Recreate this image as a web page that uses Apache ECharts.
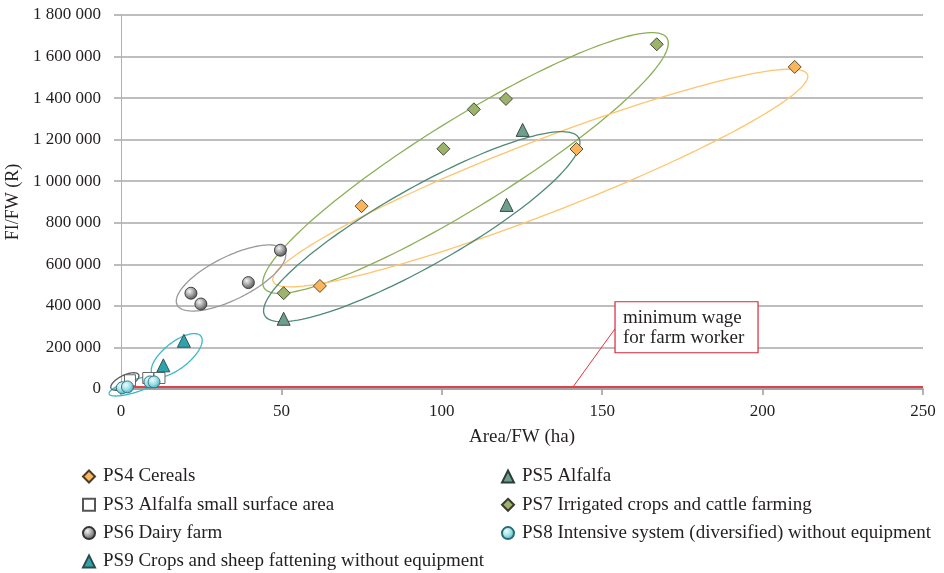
<!DOCTYPE html>
<html>
<head>
<meta charset="utf-8">
<script src="https://cdn.jsdelivr.net/npm/echarts@6.0.0/dist/echarts.min.js"></script>
<style>
html,body{margin:0;padding:0;background:#fff;}
#chart{width:944px;height:573px;}
</style>
</head>
<body>
<div id="chart"></div>
<script>
// ---- data ----
const xTickValues = [0, 50, 100, 150, 200, 250];
const yTickMax = 1800000;
const seriesNames = [
  'PS4 Cereals',
  'PS3 Alfalfa small surface area',
  'PS6 Dairy farm',
  'PS9 Crops and sheep fattening without equipment',
  'PS5 Alfalfa',
  'PS7 Irrigated crops and cattle farming',
  'PS8 Intensive system (diversified) without equipment'
];
const ps4Cereals = [[62, 496000], [75, 880000], [142, 1155000], [210, 1550000]];
const ps3AlfalfaSmall = [[2.8, 42000], [8.5, 53000], [12, 53000]];
const ps6Dairy = [[21.8, 461000], [24.9, 409000], [39.7, 512000], [49.7, 668000]];
const ps9CropsSheep = [[13.2, 114000], [19.6, 232000]];
const ps5Alfalfa = [[50.7, 338000], [120.2, 886000], [125.2, 1247000]];
const ps7Irrigated = [[50.7, 461000], [100.5, 1156000], [110, 1346000], [120, 1396000], [167, 1659000]];
const ps8Intensive = [[0.4, 6000], [2, 10000], [9, 34000], [10.3, 34000]];
const minimumWage = 12000;
const calloutText = 'minimum wage\nfor farm worker';
// group outlines: [tipA x, tipA y, tipB x, tipB y, side point x, side point y] in data units
const outlinePS7 = [44.6, 486600, 170.2, 1688900, 114.6, 907700];
const outlinePS4 = [47.4, 517900, 214.0, 1513200, 134.8, 852400];
const outlinePS5 = [44.8, 353700, 142.7, 1208500, 99.7, 618000];
const outlinePS6 = [17.5, 404800, 51.1, 663700, 37.3, 441800];
const outlinePS9 = [9.85, 69800, 24.9, 254600, 19.9, 113100];
const outlinePS8 = [-3.7, -23600, 11.8, 50500, 4.6, -15900];
const outlinePS3 = [-3.1, 3400, 5.5, 68800, 2.0, 9100];
// callout: [point on wage line x, y, box top-left x, y]
const calloutAnchor = [141, minimumWage, 154, 420000];

// ---- styling ----
const SERIF = '"Liberation Serif", "Times New Roman", serif';
const TXT = '#231f20';
const GRIDC = '#a8a8a8';

function fmt(v) { return String(v).replace(/\B(?=(\d{3})+(?!\d))/g, ' '); }

function renderOutline(color) {
  return function (params, api) {
    const p1 = api.coord([api.value(0), api.value(1)]);
    const p2 = api.coord([api.value(2), api.value(3)]);
    const pe = api.coord([api.value(4), api.value(5)]);
    const cx = (p1[0] + p2[0]) / 2, cy = (p1[1] + p2[1]) / 2;
    const dx = p2[0] - p1[0], dy = p2[1] - p1[1];
    const len = Math.hypot(dx, dy);
    const a = len / 2;
    const ux = dx / len, uy = dy / len;
    const b = Math.abs((pe[0] - cx) * (-uy) + (pe[1] - cy) * ux);
    const pts = [];
    const N = 160;
    for (let i = 0; i < N; i++) {
      const t = i / N * Math.PI * 2;
      const ca = Math.cos(t) * a, sb = Math.sin(t) * b;
      pts.push([cx + ca * ux - sb * uy, cy + ca * uy + sb * ux]);
    }
    return {
      type: 'polygon',
      shape: { points: pts },
      style: { fill: 'none', stroke: color, lineWidth: 1.3 }
    };
  };
}

function outlineSeries(data, color) {
  return {
    type: 'custom',
    coordinateSystem: 'cartesian2d',
    renderItem: renderOutline(color),
    data: [data],
    encode: { x: [0, 2, 4], y: [1, 3, 5] },
    clip: false,
    silent: true,
    z: 3,
    tooltip: { show: false }
  };
}

function renderCallout(params, api) {
  const p = api.coord([api.value(0), api.value(1)]);
  const q = api.coord([api.value(2), api.value(3)]);
  const w = 143, h = 51;
  return {
    type: 'group',
    children: [
      { type: 'line', shape: { x1: p[0], y1: p[1], x2: q[0], y2: q[1] + 27 },
        style: { stroke: '#e2343f', lineWidth: 1 } },
      { type: 'rect', shape: { x: q[0], y: q[1], width: w, height: h },
        style: { fill: '#fff', stroke: '#d8283a', lineWidth: 1.2 } },
      { type: 'text', x: q[0] + 8, y: q[1] + 6,
        style: { text: calloutText, font: '19px ' + SERIF, fill: TXT, lineHeight: 20,
                 verticalAlign: 'top', align: 'left' } }
    ]
  };
}

function scatter(name, data, symbol, size, color, border) {
  return {
    name: name, type: 'scatter', data: data, symbol: symbol, symbolSize: size,
    itemStyle: { color: color, borderColor: border, borderWidth: 0.9, opacity: 1 },
    z: 5
  };
}

const grayBall = { type: 'radial', x: 0.38, y: 0.35, r: 0.7,
  colorStops: [{ offset: 0, color: '#f4f4f4' }, { offset: 0.5, color: '#a0a0a0' }, { offset: 1, color: '#4a4a4a' }] };
const cyanBall = { type: 'radial', x: 0.38, y: 0.35, r: 0.7,
  colorStops: [{ offset: 0, color: '#eefcfe' }, { offset: 0.5, color: '#9fe0e8' }, { offset: 1, color: '#3aa9b8' }] };

const legendText = { fontFamily: SERIF, fontSize: 19, color: TXT, padding: [0, 0, 0, 3] };

const option = {
  animation: false,
  backgroundColor: '#fff',
  grid: { left: 121, right: 21, top: 15, bottom: 184, outerBoundsMode: 'none' },
  legend: [
    { data: seriesNames.slice(0, 4), orient: 'vertical', left: 82, top: 467, height: 106, padding: 0,
      itemWidth: 12, itemHeight: 12, itemGap: 9.3, textStyle: legendText, selectedMode: false },
    { data: seriesNames.slice(4), orient: 'vertical', left: 501, top: 467, height: 106, padding: 0,
      itemWidth: 12, itemHeight: 12, itemGap: 9.3, textStyle: legendText, selectedMode: false }
  ],
  xAxis: {
    type: 'value', min: xTickValues[0], max: xTickValues[xTickValues.length - 1],
    interval: xTickValues[1] - xTickValues[0],
    name: 'Area/FW (ha)', nameLocation: 'middle', nameGap: 39,
    nameTextStyle: { fontFamily: SERIF, fontSize: 19, color: TXT },
    axisLine: { show: true, onZero: false, lineStyle: { color: '#9a9a9a', width: 1.5 } },
    axisTick: { show: true, inside: false, length: 6, lineStyle: { color: '#9a9a9a', width: 1.5 } },
    axisLabel: { fontFamily: SERIF, fontSize: 17, color: TXT, margin: 14 },
    splitLine: { show: false }
  },
  yAxis: {
    type: 'value', min: 0, max: yTickMax, interval: 200000,
    name: 'FI/FW (R)', nameLocation: 'middle', nameGap: 94, nameRotate: 90,
    nameTextStyle: { fontFamily: SERIF, fontSize: 18, color: TXT },
    axisLine: { show: true, lineStyle: { color: '#b0b0b0', width: 1 } },
    axisTick: { show: true, inside: false, length: 7, lineStyle: { color: GRIDC, width: 1.5 } },
    axisLabel: { fontFamily: SERIF, fontSize: 17, color: TXT, margin: 20, formatter: fmt },
    splitLine: { show: true, lineStyle: { color: GRIDC, width: 1.5 } }
  },
  series: [
    {
      name: 'minimum wage', type: 'line', data: [], silent: true, z: 2,
      markLine: {
        silent: true, symbol: ['none', 'none'], label: { show: false },
        lineStyle: { color: '#e0414b', width: 2, type: 'solid' },
        data: [{ yAxis: minimumWage }]
      }
    },
    outlineSeries(outlinePS7, '#8caf55'),
    outlineSeries(outlinePS4, '#ffc46e'),
    outlineSeries(outlinePS5, '#4d8a78'),
    outlineSeries(outlinePS6, '#9a9a9a'),
    outlineSeries(outlinePS9, '#3ab9c6'),
    outlineSeries(outlinePS8, '#3ab9c6'),
    outlineSeries(outlinePS3, '#5a5a5a'),
    scatter(seriesNames[1], ps3AlfalfaSmall, 'rect', 11, '#ffffff', '#555555'),
    scatter(seriesNames[2], ps6Dairy, 'circle', 12, grayBall, '#333333'),
    scatter(seriesNames[6], ps8Intensive, 'circle', 12, cyanBall, '#2b6d76'),
    scatter(seriesNames[3], ps9CropsSheep, 'triangle', 13, '#2ea3ae', '#2d4a4d'),
    scatter(seriesNames[4], ps5Alfalfa, 'triangle', 13, '#6e9e8c', '#2d3d38'),
    scatter(seriesNames[5], ps7Irrigated, 'diamond', 13, '#9bb36a', '#3a3a30'),
    scatter(seriesNames[0], ps4Cereals, 'diamond', 13, '#fbb65c', '#4a3a2a'),
    {
      type: 'custom', coordinateSystem: 'cartesian2d', renderItem: renderCallout,
      data: [calloutAnchor], encode: { x: [0, 2], y: [1, 3] }, clip: false, silent: true, z: 6
    }
  ]
};

const chart = echarts.init(document.getElementById('chart'), null, { renderer: 'canvas' });
chart.setOption(option);
</script>
</body>
</html>
